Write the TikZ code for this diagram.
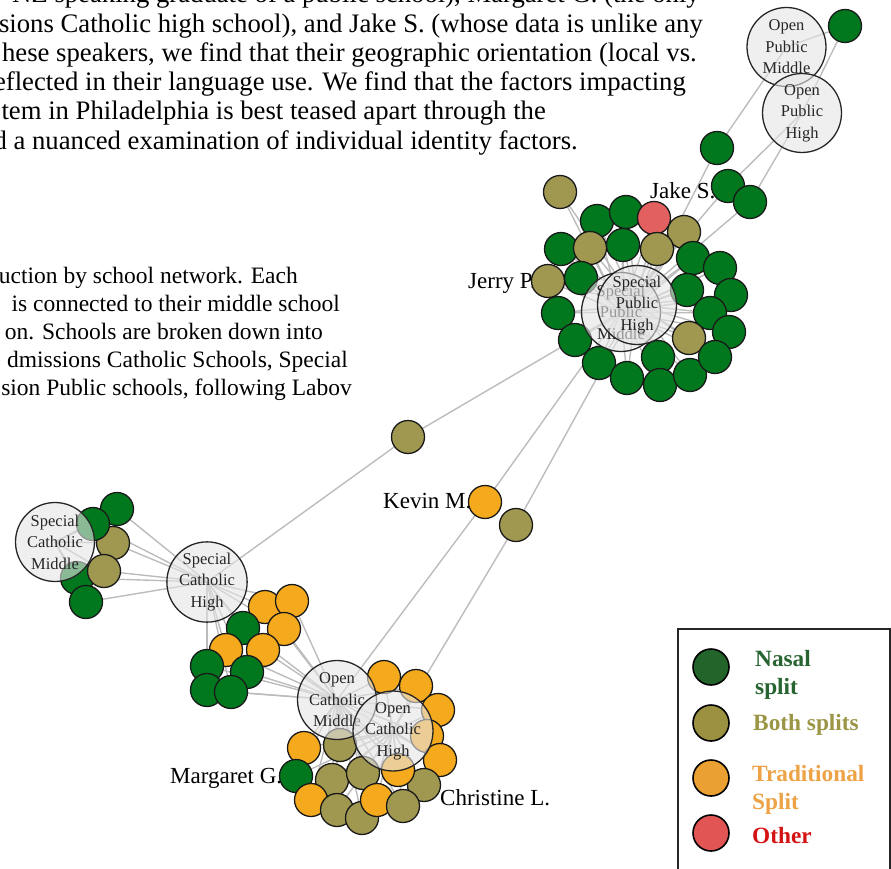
\documentclass[tikz,border=0pt]{standalone}
\usepackage{fontspec}
\setmainfont{Liberation Serif}
\definecolor{cgreen}{RGB}{2,120,30}
\definecolor{colive}{RGB}{160,152,80}
\definecolor{corange}{RGB}{245,170,30}
\definecolor{cred}{RGB}{226,96,96}
\definecolor{cedge}{RGB}{188,188,188}
\definecolor{lgreen}{RGB}{35,100,42}
\definecolor{lolive}{RGB}{155,145,65}
\definecolor{lorange}{RGB}{235,160,50}
\definecolor{lred}{RGB}{225,85,85}
\definecolor{tgreen}{RGB}{40,100,50}
\definecolor{tolive}{RGB}{155,150,70}
\definecolor{torange}{RGB}{237,162,70}
\definecolor{tred}{RGB}{212,20,20}
\pgfdeclarelayer{bg}
\pgfdeclarelayer{fg}
\pgfsetlayers{bg,main,fg}
\begin{document}
\begin{tikzpicture}[x=1pt,y=-1pt,
  spk/.style={circle,draw=black!90,line width=1.3pt,minimum size=33pt,inner sep=0pt},
  sg/.style={spk,fill=cgreen},
  so/.style={spk,fill=colive},
  sy/.style={spk,fill=corange},
  sr/.style={spk,fill=cred},
  school/.style={circle,draw=black!85,line width=1.3pt,minimum size=79pt,inner sep=0pt,
     fill=black!10,fill opacity=0.6,text opacity=1,align=center,
     font=\fontsize{16.5}{21.5}\selectfont,text=black!85},
  conn/.style={draw=cedge,line width=1.4pt},
  para/.style={anchor=base east,inner sep=0pt,font=\fontsize{26.7}{30}\selectfont},
  parb/.style={anchor=base east,inner sep=0pt,font=\fontsize{23.5}{28}\selectfont},
  spkname/.style={anchor=base west,inner sep=0pt,font=\fontsize{23}{27}\selectfont},
  lg/.style={circle,draw=black,line width=1.6pt,minimum size=36pt,inner sep=0pt},
  lt/.style={anchor=base west,inner sep=0pt,font=\bfseries\fontsize{23.3}{28}\selectfont}]
\useasboundingbox (0,0) rectangle (891,869);
\clip (0,0) rectangle (891,869);

% paragraph text
\node[para] (t1) at (700,3) {NZ speaking graduate of a public school), Margaret G. (the only};
\node[para] (t2) at (703,32.5) {sions Catholic high school), and Jake S. (whose data is unlike any};
\node[para] (t3) at (697,62) {hese speakers, we find that their geographic orientation (local vs.};
\node[para] (t4) at (686,91) {eflected in their language use. We find that the factors impacting};
\node[para] (t5) at (546,120) {tem in Philadelphia is best teased apart through the};
\node[para] (t6) at (578,149.5) {d a nuanced examination of individual identity factors.};

\node[parb] (b1) at (298,283) {uction by school network. Each};
\node[parb] (b2) at (340,311) {is connected to their middle school};
\node[parb] (b3) at (323,339) {on. Schools are broken down into};
\node[parb] (b4) at (348,367) {dmissions Catholic Schools, Special};
\node[parb] (b5) at (352,395) {sion Public schools, following Labov};

% speaker labels
\node[spkname] (lj) at (650,199) {Jake S.};
\node[spkname] (lp) at (468,288) {Jerry P.};
\node[spkname] (lk) at (383,508) {Kevin M.};
\node[spkname] (lm) at (170,783) {Margaret G.};
\node[spkname] (lc) at (440,805) {Christine L.};

% speakers: top right
\node[sg] (t0s) at (845,26) {};
\node[sg] (ts1) at (717,148) {};
\node[sg] (ts2) at (728,186) {};
\node[sg] (ts3) at (750,202) {};

% Special Public cluster
\foreach \n/\x/\y/\s in {1/560/192/so,2/597/221/sg,3/626/212/sg,4/654/218/sr,5/684/232/so,
  6/561/249/sg,7/590/248/so,8/623/245/sg,9/657/249/so,10/693/258/sg,11/720/268/sg,
  12/548/281/so,13/581/278/sg,14/687/290/sg,15/731/295/sg,16/558/313/sg,17/710/313/sg,
  18/729/332/sg,19/689/338/so,20/575/340/sg,21/599/363/sg,22/627/378/sg,23/658/357/sg,
  24/660/385/sg,25/690/375/sg,26/715/357/sg}
  \node[\s] (p\n) at (\x,\y) {};

% middle
\node[so] (m1) at (408,437) {};
\node[sy] (kev) at (485,502) {};
\node[so] (m2) at (516,525) {};

% Special Catholic Middle group
\foreach \n/\x/\y/\s in {1/117/509/sg,3/113/543/so,2/93/524/sg,5/77/578/sg,4/104/571/so,6/86/602/sg}
  \node[\s] (c\n) at (\x,\y) {};

% Special Catholic High group
\foreach \n/\x/\y/\s in {1/265/607/sy,2/292/601/sy,3/243/628/sg,4/284/629/sy,5/226/650/sy,
  6/263/650/sy,7/207/666/sg,8/247/672/sg,9/207/690/sg,10/231/692/sg}
  \node[\s] (d\n) at (\x,\y) {};

% Open Catholic group
\foreach \n/\x/\y/\s in {1/384/677/sy,2/416/686/sy,3/438/710/sy,4/427/736/sy,5/440/760/sy,
  6/304/748/sy,7/340/745/so,8/424/785/so,9/398/770/sy,10/296/776/sg,11/332/780/so,
  12/363/773/so,13/311/800/sy,14/337/810/so,15/362/818/so,16/377/800/sy,17/403/806/so}
  \node[\s] (e\n) at (\x,\y) {};

% schools
\begin{pgfonlayer}{fg}
\node[school] (opm) at (786.5,47) {Open\\Public\\Middle};
\node[school] (oph) at (802,113) {Open\\Public\\High};
\node[school] (spm) at (621,312) {Special\\Public\\Middle};
\node[school] (sph) at (637,305) {Special\\Public\\High};
\node[school] (scm) at (55,542) {Special\\Catholic\\Middle};
\node[school] (sch) at (207,582) {Special\\Catholic\\High};
\node[school] (ocm) at (337,700) {Open\\Catholic\\Middle};
\node[school] (och) at (393,731) {Open\\Catholic\\High};
\end{pgfonlayer}

% edges
\begin{pgfonlayer}{bg}
\foreach \n in {1,...,26} {
  \draw[conn] (p\n.center) -- (spm.center);
  \draw[conn] (p\n.center) -- (sph.center);
}
\draw[conn] (t0s.center) -- (opm.center);
\draw[conn] (t0s.center) -- (oph.center);
\draw[conn] (ts1.center) -- (opm.center);
\draw[conn] (ts1.center) -- (sph.center);
\draw[conn] (ts2.center) -- (oph.center);
\draw[conn] (ts2.center) -- (spm.center);
\draw[conn] (ts3.center) -- (oph.center);
\draw[conn] (ts3.center) -- (spm.center);
\draw[conn] (m1.center) -- (sch.center);
\draw[conn] (m1.center) -- (spm.center);
\draw[conn] (kev.center) -- (ocm.center);
\draw[conn] (kev.center) -- (spm.center);
\draw[conn] (m2.center) -- (och.center);
\draw[conn] (m2.center) -- (sph.center);
\foreach \n in {1,...,6} {
  \draw[conn] (c\n.center) -- (scm.center);
  \draw[conn] (c\n.center) -- (sch.center);
}
\foreach \n in {1,...,10} {
  \draw[conn] (d\n.center) -- (sch.center);
  \draw[conn] (d\n.center) -- (ocm.center);
}
\foreach \n in {1,...,17} {
  \draw[conn] (e\n.center) -- (ocm.center);
  \draw[conn] (e\n.center) -- (och.center);
}
\end{pgfonlayer}

% legend
\draw[draw=black!85,line width=2pt] (678,629) rectangle (889.5,880);
\node[lg,fill=lgreen] (k1) at (711,667) {};
\node[lg,fill=lolive] (k2) at (711,723) {};
\node[lg,fill=lorange] (k3) at (711,778) {};
\node[lg,fill=lred] (k4) at (711,833) {};
\node[lt,text=tgreen] (k1t) at (755,666) {Nasal};
\node[lt,text=tgreen] (k1u) at (755,694) {split};
\node[lt,text=tolive] (k2t) at (753,730) {Both splits};
\node[lt,text=torange] (k3t) at (752,781) {Traditional};
\node[lt,text=torange] (k3u) at (752,809) {Split};
\node[lt,text=tred] (k4t) at (752,843) {Other};
\end{tikzpicture}
\end{document}
